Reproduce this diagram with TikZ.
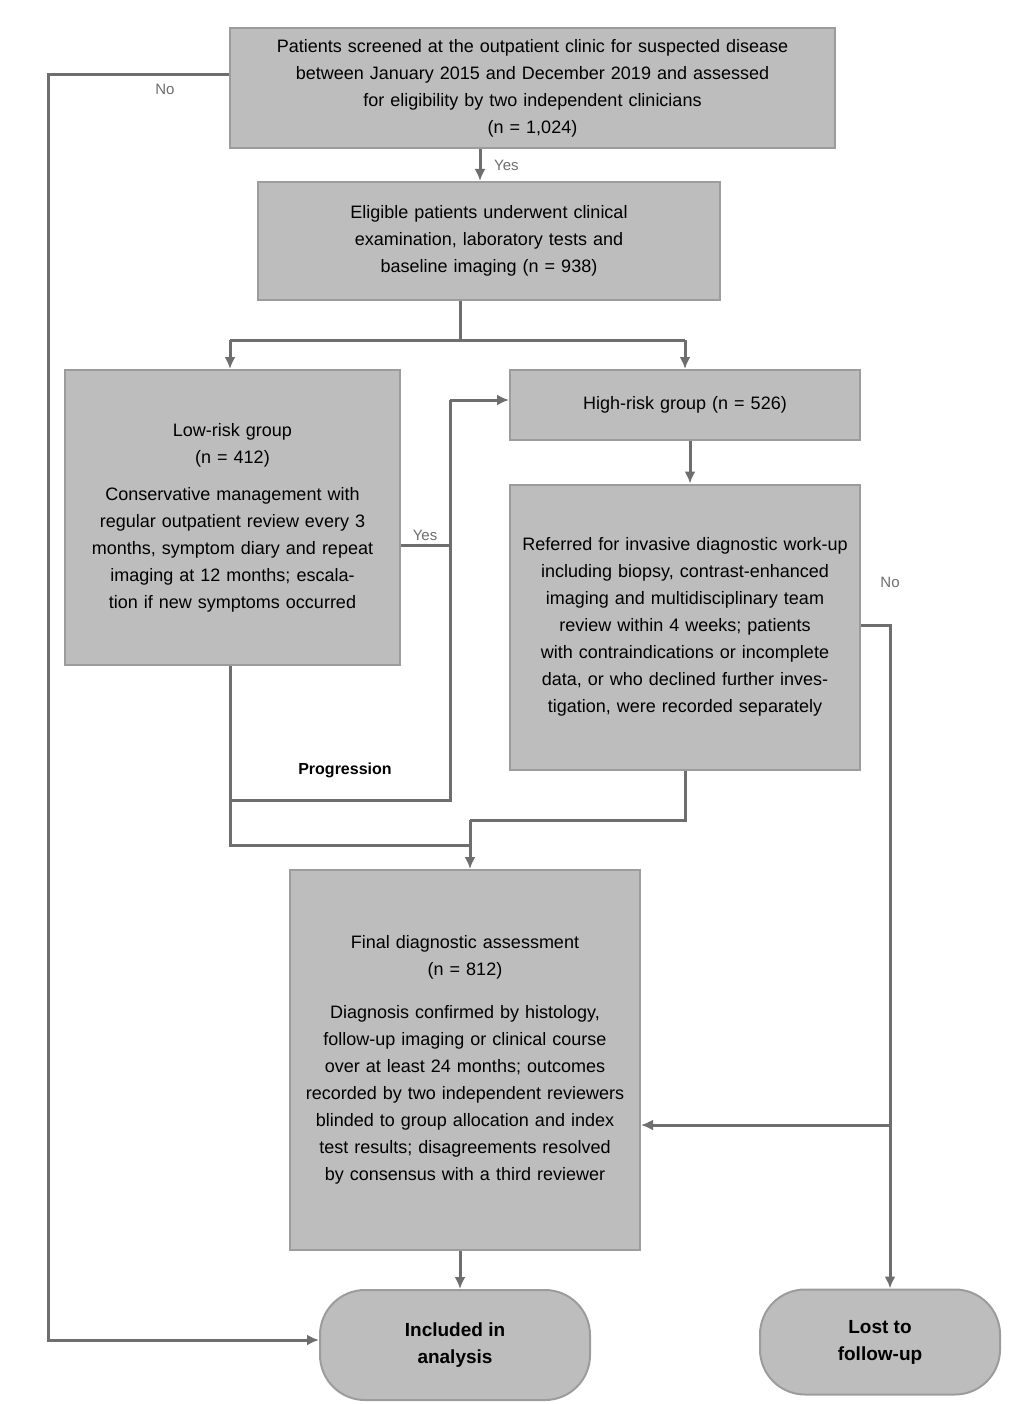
\documentclass[tikz,border=0pt]{standalone}
\usepackage{fontspec}
\setmainfont{Liberation Sans}
\usetikzlibrary{arrows.meta}
\definecolor{boxfill}{HTML}{BDBDBD}
\definecolor{boxedge}{HTML}{9C9C9C}
\definecolor{linec}{HTML}{6E6E6E}
\begin{document}
\begin{tikzpicture}[x=1pt,y=-1pt,
  flowbox/.style={draw=boxedge, fill=boxfill, line width=2pt, align=center,
    inner sep=8pt, font=\fontsize{18}{27}\selectfont},
  endbox/.style={draw=boxedge, fill=boxfill, line width=2pt, align=center,
    rounded corners=45pt, inner sep=6pt, font=\fontsize{19}{27}\selectfont\bfseries},
  conn/.style={draw=linec, line width=3pt},
  arr/.style={conn, -{Latex[length=12pt,width=11pt]}},
  lbl/.style={font=\fontsize{15}{18}\selectfont, text=linec, inner sep=2pt}
]
\useasboundingbox (0,0) rectangle (1025,1404);

% boxes
\node[flowbox, minimum width=605, minimum height=120, text width=585] (top) at (532.5,88)
  {Patients screened at the outpatient clinic for suspected disease\\
   between January 2015 and December 2019 and assessed\\
   for eligibility by two independent clinicians\\
   (n = 1,024)};
\node[flowbox, minimum width=462, minimum height=118, text width=442] (second) at (489,241)
  {Eligible patients underwent clinical\\ examination, laboratory tests and\\ baseline imaging (n = 938)};
\node[flowbox, minimum width=335, minimum height=295, text width=315] (left) at (232.5,517.5)
  {Low-risk group\\ (n = 412)\\[10pt]
   Conservative management with regular outpatient review every 3 months, symptom diary and repeat imaging at 12 months; escalation if new symptoms occurred};
\node[flowbox, minimum width=350, minimum height=70, text width=330] (rsmall) at (685,405)
  {High-risk group (n = 526)};
\node[flowbox, minimum width=350, minimum height=285, text width=330] (rbig) at (685,627)
  {Referred for invasive diagnostic work-up including biopsy, contrast-enhanced imaging and multidisciplinary team review within 4 weeks; patients with contraindications or incomplete data, or who declined further investigation, were recorded separately};
\node[flowbox, minimum width=350, minimum height=380, text width=330] (bottom) at (465,1060)
  {Final diagnostic assessment\\ (n = 812)\\[16pt]
   Diagnosis confirmed by histology, follow-up imaging or clinical course over at least 24 months; outcomes recorded by two independent reviewers blinded to group allocation and index test results; disagreements resolved by consensus with a third reviewer};
\node[endbox, minimum width=270, minimum height=110] (ovalL) at (455,1345)
  {Included in\\ analysis};
\node[endbox, minimum width=240, minimum height=105] (ovalR) at (880,1342)
  {Lost to\\ follow-up};

% coordinates
\coordinate (tl) at (48,75);
\coordinate (bl) at (48,1340);
\coordinate (split) at (460,340);
\coordinate (splitL) at (230,340);
\coordinate (splitR) at (685,340);
\coordinate (j1) at (230,800);
\coordinate (j2) at (450,800);
\coordinate (j3) at (450,400);
\coordinate (j4) at (450,545);
\coordinate (k1) at (230,845);
\coordinate (k2) at (470,845);
\coordinate (k3) at (685,820);
\coordinate (r1) at (890,625);
\coordinate (r2) at (890,1125);

% connectors
\draw[arr] (top.west |- tl) -- (tl) -- (bl) -- (ovalL.west |- bl);
\node[lbl, anchor=north] at (165,82) {No};
\draw[arr] (top.south -| 480,0) -- (second.north -| 480,0);
\node[lbl, anchor=west] at (492,165) {Yes};
\draw[conn] (second.south -| split) -- (split);
\draw[conn] (splitL) -- (splitR);
\draw[arr] (splitL) -- (left.north -| splitL);
\draw[arr] (splitR) -- (rsmall.north -| splitR);
\draw[arr] (rsmall.south -| 690,0) -- (rbig.north -| 690,0);
\draw[conn] (left.south -| j1) -- (j1) -- (j2) -- (j3);
\draw[arr] (j3) -- (rsmall.west |- j3);
\draw[conn] (left.east |- j4) -- (j4);
\node[lbl, anchor=south] at (425,543) {Yes};
\node[font=\fontsize{16}{18}\selectfont\bfseries, text=black] (prog) at (345,770) {Progression};
\draw[conn] (j1) -- (k1) -- (k2);
\draw[conn] (rbig.south -| k3) -- (k3) -- (k3 -| k2);
\draw[arr] (k3 -| k2) -- (bottom.north -| k2);
\draw[arr] (rbig.east |- r1) -- (r1) -- (ovalR.north -| r1);
\node[lbl, anchor=south] at (890,590) {No};
\draw[arr] (r2) -- (bottom.east |- r2);
\draw[arr] (bottom.south -| 460,0) -- (ovalL.north -| 460,0);
\end{tikzpicture}
\end{document}
